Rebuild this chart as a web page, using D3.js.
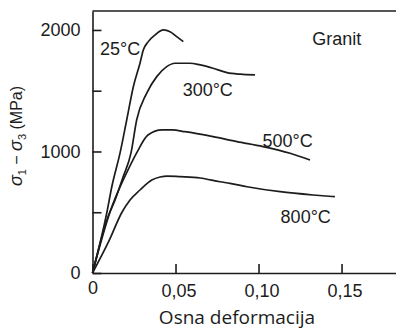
<!DOCTYPE html>
<html>
<head>
<meta charset="utf-8">
<script src="https://d3js.org/d3.v7.min.js"></script>
<style>
  body { margin: 0; background: #fff; }
  svg text { font-family: "Liberation Sans", Arial, sans-serif; fill: #1c1c1c; }
</style>
</head>
<body>
<script>
// strain (x) / deviatoric stress in MPa (y)
var strain25 = [0, 0.0086, 0.0116, 0.0166, 0.0206, 0.0246, 0.0286, 0.0306, 0.0336, 0.0377, 0.0427, 0.0467, 0.0507, 0.0547];
var stress25 = [0, 494, 708, 988, 1259, 1533, 1726, 1835, 1904, 1959, 2000, 1986, 1945, 1904];

var strain300 = [0, 0.0093, 0.0136, 0.0184, 0.0232, 0.0266, 0.0326, 0.0387, 0.0447, 0.0497, 0.0587, 0.0648, 0.0726, 0.081, 0.0889, 0.0979];
var stress300 = [0, 461, 601, 790, 988, 1259, 1479, 1616, 1698, 1726, 1726, 1712, 1685, 1649, 1636, 1630];

var strain500 = [0, 0.0116, 0.0166, 0.0214, 0.0266, 0.0334, 0.0419, 0.0480, 0.0557, 0.0726, 0.087, 0.1027, 0.119, 0.131];
var stress500 = [0, 543, 708, 848, 988, 1136, 1177, 1177, 1163, 1122, 1081, 1040, 985, 930];

var strain800 = [0, 0.0102, 0.0175, 0.0226, 0.0286, 0.0357, 0.0407, 0.045, 0.0527, 0.0648, 0.0768, 0.0828, 0.0931, 0.113, 0.1328, 0.146];
var stress800 = [0, 272, 494, 601, 683, 765, 790, 798, 793, 782, 751, 738, 710, 669, 642, 628];

var curveLabels = ["25°C", "300°C", "500°C", "800°C"];
var xTicks = [0, 0.05, 0.10, 0.15];
var yTicks = [0, 500, 1000, 1500, 2000];
var yLabelled = [0, 1000, 2000];

var W = 396, H = 332;
var padL = 92.5, padB = 273, padT = 11;
var xMax = 0.1828, yMax = 2156;

var svg = d3.select("body").append("svg")
  .attr("width", W).attr("height", H);

var x = d3.scaleLinear().domain([0, xMax]).range([padL, W]);
var y = d3.scaleLinear().domain([0, yMax]).range([padB, padT]);

var ink = "#1c1c1c";

// x axis, ticks pointing inward
var xAxis = d3.axisBottom(x)
  .tickValues(xTicks)
  .tickSizeInner(-9).tickSizeOuter(0).tickPadding(11)
  .tickFormat(function(d) { return d === 0 ? "0" : d3.format(".2f")(d).replace(".", ","); });
var gx = svg.append("g").attr("transform", "translate(0," + padB + ")").call(xAxis);
gx.selectAll("text").style("font-size", "18px").attr("dx", "3px");
gx.selectAll("text").filter(function(d) { return d === 0; }).attr("dx", "0px").attr("y", 8);

// y axis
var yAxis = d3.axisLeft(y)
  .tickValues(yTicks)
  .tickSizeInner(-9).tickSizeOuter(0).tickPadding(12)
  .tickFormat(function(d) { return yLabelled.indexOf(d) >= 0 ? d : ""; });
var gy = svg.append("g").attr("transform", "translate(" + padL + ",0)").call(yAxis);
gy.selectAll("text").style("font-size", "18px");

svg.selectAll(".domain, .tick line").attr("stroke", ink).attr("stroke-width", 1.6);

// top frame line
svg.append("line")
  .attr("x1", x(0)).attr("x2", x(xMax))
  .attr("y1", y(yMax)).attr("y2", y(yMax))
  .attr("stroke", ink).attr("stroke-width", 1.6);

// curves
var series = [
  { xs: strain25, ys: stress25 },
  { xs: strain300, ys: stress300 },
  { xs: strain500, ys: stress500 },
  { xs: strain800, ys: stress800 }
];
var line = d3.line()
  .x(function(d) { return x(d[0]); })
  .y(function(d) { return y(d[1]); })
  .curve(d3.curveMonotoneX);

svg.selectAll("path.curve")
  .data(series)
  .enter().append("path")
  .attr("class", "curve")
  .attr("fill", "none")
  .attr("stroke", ink)
  .attr("stroke-width", 1.7)
  .attr("stroke-linejoin", "round")
  .attr("d", function(s) { return line(d3.zip(s.xs, s.ys)); });

// curve labels (placed in data units)
var labelPos = [[0.0045, 1790], [0.0543, 1460], [0.1024, 1036], [0.1133, 412]];
svg.selectAll("text.lab")
  .data(curveLabels)
  .enter().append("text")
  .attr("class", "lab")
  .attr("x", function(d, i) { return x(labelPos[i][0]); })
  .attr("y", function(d, i) { return y(labelPos[i][1]); })
  .style("font-size", "18px")
  .text(function(d) { return d; });

svg.append("text")
  .attr("x", x(0.1323)).attr("y", y(1876))
  .style("font-size", "18px")
  .text("Granit");

// axis titles
svg.append("text")
  .attr("x", 237).attr("y", 324)
  .attr("text-anchor", "middle")
  .style("font-family", "'Open Sans', sans-serif")
  .style("font-size", "19px")
  .text("Osna deformacija");

var yt = svg.append("text")
  .attr("transform", "translate(22,136) rotate(-90)")
  .attr("text-anchor", "middle")
  .style("font-size", "16px");
yt.append("tspan").style("font-style", "italic").style("font-size", "18px").text("σ");
yt.append("tspan").attr("dy", 4).style("font-size", "11px").text("1");
yt.append("tspan").attr("dy", -4).text(" − ");
yt.append("tspan").style("font-style", "italic").style("font-size", "18px").text("σ");
yt.append("tspan").attr("dy", 4).style("font-size", "11px").text("3");
yt.append("tspan").attr("dy", -4).text(" (MPa)");
</script>
</body>
</html>
